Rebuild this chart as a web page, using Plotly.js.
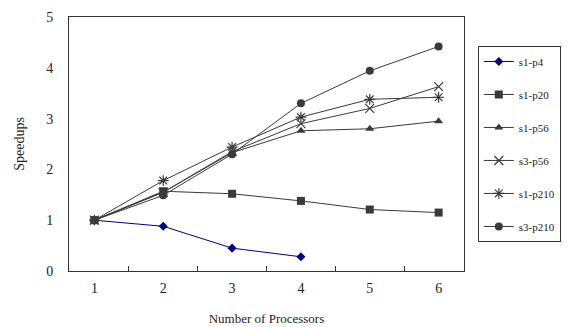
<!DOCTYPE html>
<html><head><meta charset="utf-8">
<script src="https://cdn.plot.ly/plotly-3.0.1.min.js"></script>
<style>body{margin:0;background:#fff}#c{width:573px;height:327px}</style>
</head><body><div id="c"></div>
<script>
const processors = ['1','2','3','4','5','6'];
const s1p4 = [1, 0.88, 0.45, 0.28];
const s1p20 = [1, 1.57, 1.52, 1.38, 1.21, 1.15];
const s1p56 = [1, 1.55, 2.33, 2.76, 2.80, 2.95];
const s3p56 = [1, 1.55, 2.35, 2.90, 3.20, 3.63];
const s1p210 = [1, 1.78, 2.44, 3.03, 3.38, 3.42];
const s3p210 = [1, 1.49, 2.30, 3.30, 3.94, 4.42];
const names = ['s1-p4','s1-p20','s1-p56','s3-p56','s1-p210','s3-p210'];

const gray = '#3a3a3a';
function tr(y, name, color, symbol, size, lw){
  return {x: processors.slice(0, y.length), y: y, name: name, type:'scatter', mode:'lines+markers',
    legendgroup: name,
    line:{color: color, width: 1},
    marker:{symbol: symbol, size: size, color: color, line:{color: color, width: lw}}};
}
const data = [
  tr(s1p4, names[0], '#000080', 'diamond', 7, 0),
  tr(s1p20, names[1], gray, 'square', 8, 0),
  tr(s1p56, names[2], gray, 'triangle-up', 8, 0),
  tr(s3p56, names[3], gray, 'x-thin-open', 9, 1.2),
  tr(s1p210, names[4], gray, 'asterisk-open', 9, 1.2),
  tr(s3p210, names[5], gray, 'circle', 8, 0)
];
const font = {family:'"Liberation Serif", "Times New Roman", serif', color:'#222'};
const layout = {
  width:573, height:327,
  margin:{l:69, r:105, t:17, b:56},
  paper_bgcolor:'#fff', plot_bgcolor:'#fff',
  font: Object.assign({size:12}, font),
  showlegend:true,
  legend:{x:1.035, y:0.886, xanchor:'left', yanchor:'top', bordercolor:'#333', borderwidth:1,
    font: Object.assign({size:11}, font), tracegroupgap:14, traceorder:'grouped'},
  xaxis:{type:'category', tickson:'boundaries', ticks:'inside', ticklen:5, tickcolor:'#333',
    showline:true, mirror:true, linecolor:'#333', linewidth:1, showgrid:false, zeroline:false,
    ticklabelstandoff:4,
    title:{text:'Number of Processors', font:Object.assign({size:13}, font), standoff:19},
    tickfont:Object.assign({size:14}, font)},
  yaxis:{range:[0,5], dtick:1, ticks:'', showline:true, mirror:true, linecolor:'#333', linewidth:1,
    showgrid:false, zeroline:false, ticklabelstandoff:12,
    title:{text:'Speedups', font:Object.assign({size:14}, font), standoff:18},
    tickfont:Object.assign({size:14}, font)}
};
Plotly.newPlot('c', data, layout, {displayModeBar:false, staticPlot:true});
</script></body></html>
